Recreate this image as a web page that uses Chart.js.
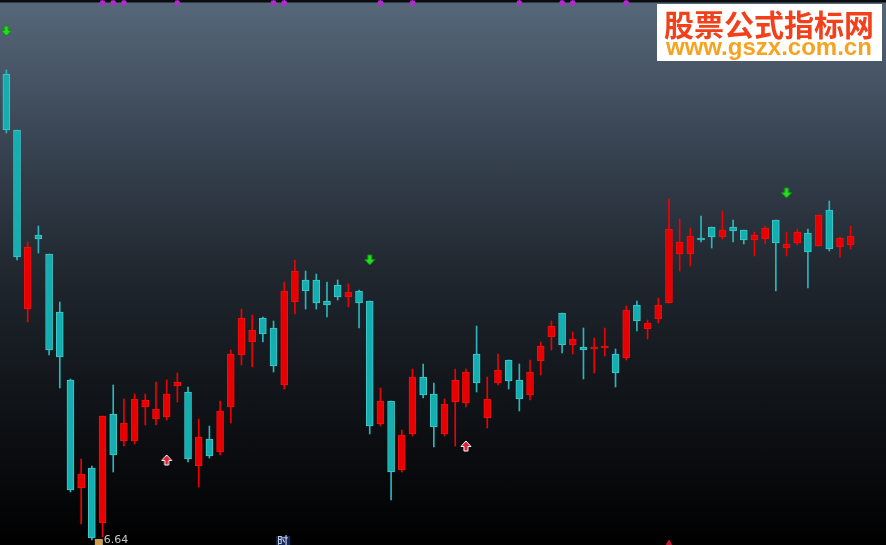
<!DOCTYPE html>
<html>
<head>
<meta charset="utf-8">
<script src="https://cdn.jsdelivr.net/npm/chart.js@4.4.1/dist/chart.umd.min.js"></script>
<style>
  html, body { margin: 0; padding: 0; background: #000; }
  #wrap {
    position: relative; width: 886px; height: 545px; overflow: hidden;
    background: linear-gradient(to bottom, #0a0c0e 0px, #0a0c0e 2px, #56677a 3px, #3b4756 130px, #20272f 270px, #0e1115 420px, #000 545px);
  }
  #logo {
    position: absolute; left: 657px; top: 4px; width: 225px; height: 57px; background: #fff;
  }
  #logo .t1 {
    position: absolute; left: 7px; top: 1px; font: bold 30px "Noto Sans CJK SC", sans-serif;
    color: #f2401b; line-height: 36px; white-space: nowrap;
  }
  #logo .t2 {
    position: absolute; left: 9px; top: 29px; font: bold 24px "Liberation Sans", Arial, sans-serif;
    color: #f5a321; line-height: 28px; white-space: nowrap;
  }
</style>
</head>
<body>
<div id="wrap">
  <canvas id="kline" width="886" height="545"></canvas>
  <div id="logo"><div class="t1">股票公式指标网</div><div class="t2">www.gszx.com.cn</div></div>
</div>
<script>
// K线数据 (开, 高, 低, 收)
const openP  = [11.30,10.74,8.95,9.69,9.50,8.92,8.24,7.16,7.36,6.81,7.90,7.63,7.63,7.97,7.85,7.87,8.18,8.12,7.38,7.65,
                7.52,7.97,8.49,8.62,8.86,8.76,8.19,9.02,9.24,9.24,9.03,9.19,9.07,9.13,9.03,7.80,8.03,7.34,7.70,8.27,
                8.10,7.70,8.02,8.01,8.50,7.86,8.21,8.44,8.24,8.09,8.43,8.67,8.91,8.59,8.57,8.55,8.56,8.50,8.46,8.99,
                8.75,8.85,9.01,9.50,9.50,9.66,9.77,9.67,9.77,9.74,9.64,9.65,9.84,9.56,9.61,9.71,9.58,9.94,9.57,9.59];
const highP  = [11.34,10.74,9.62,9.78,9.50,9.02,8.25,7.45,7.38,7.88,8.19,8.05,8.10,8.10,8.22,8.24,8.31,8.17,7.85,7.78,
                8.03,8.54,8.95,8.89,8.87,8.83,9.22,9.44,9.33,9.30,9.22,9.24,9.20,9.14,9.03,8.16,8.03,7.74,8.35,8.40,
                8.21,8.05,8.35,8.35,8.78,8.27,8.50,8.44,8.40,8.44,8.62,8.83,8.91,8.72,8.76,8.66,8.76,8.55,8.98,9.03,
                8.84,9.06,10.05,9.85,9.76,9.88,9.77,9.93,9.84,9.74,9.72,9.78,9.84,9.72,9.75,9.75,9.89,10.03,9.67,9.78];
const lowP   = [10.71,9.44,8.82,9.51,8.49,8.16,7.12,6.80,6.64,6.67,7.32,7.58,7.60,7.79,7.79,7.84,8.02,7.42,7.17,7.46,
                7.49,7.81,8.39,8.37,8.62,8.32,8.15,8.90,8.95,8.95,8.87,9.04,8.97,8.76,7.70,7.78,7.04,7.32,7.68,8.06,
                7.57,7.68,7.58,7.97,8.12,7.76,8.19,8.15,7.93,8.04,8.29,8.54,8.51,8.50,8.25,8.31,8.48,8.17,8.44,8.73,
                8.65,8.81,9.01,9.33,9.38,9.62,9.56,9.65,9.62,9.60,9.48,9.60,9.13,9.48,9.59,9.16,9.58,9.53,9.47,9.55];
const closeP = [10.74,9.47,9.57,9.65,8.54,8.47,7.14,7.30,6.66,7.88,7.49,7.81,8.05,8.04,7.95,8.10,8.22,7.45,7.67,7.48,
                7.93,8.50,8.86,8.74,8.70,8.38,9.13,9.33,9.13,9.01,8.99,9.07,9.12,9.01,7.78,8.03,7.32,7.69,8.27,8.09,
                7.77,8.00,8.24,8.32,8.21,8.05,8.34,8.23,8.05,8.32,8.58,8.78,8.59,8.65,8.54,8.57,8.57,8.31,8.94,8.83,
                8.81,8.99,9.75,9.62,9.68,9.64,9.67,9.74,9.73,9.64,9.69,9.76,9.61,9.60,9.72,9.52,9.89,9.55,9.66,9.68];
const days = openP.map((_, i) => String(i + 1));

// 信号: 卖出(绿色向下箭头), 买入(红色向上箭头), 顶部紫色标记
const sellIdx = [0, 34, 73];
const sellAt  = [11.73, 9.44, 10.11];
const buyIdx  = [15, 43];
const buyAt   = [7.44, 7.58];
const markIdx = [9, 10, 11, 16, 25, 26, 35, 38, 48, 52, 53, 58];
const markAt  = 12.01;
const dotIdx  = [62];
const dotAt   = [6.61];
const lowLabel = '6.64';

const UP = '#e80000', DOWN = '#14adb0';
const isUp = closeP.map((c, i) => c >= openP[i]);

function sparse(idx, vals) {
    const arr = days.map(() => null);
    idx.forEach((k, j) => { arr[k] = Array.isArray(vals) ? vals[j] : vals; });
    return arr;
}

// 箭头图标
function arrowIcon(down, fill, stroke) {
    const c = document.createElement('canvas');
    c.width = 12; c.height = 12;
    const g = c.getContext('2d');
    g.save();
    if (down) { g.translate(0, 12); g.scale(1, -1); }
    g.beginPath();
    g.moveTo(6, 1); g.lineTo(11, 6.5); g.lineTo(8, 6.5); g.lineTo(8, 11);
    g.lineTo(4, 11); g.lineTo(4, 6.5); g.lineTo(1, 6.5); g.closePath();
    g.fillStyle = fill; g.fill();
    g.lineWidth = 1; g.strokeStyle = stroke; g.stroke();
    g.restore();
    return c;
}
const sellImg = arrowIcon(true, '#22e01e', '#109010');
const buyImg  = arrowIcon(false, '#e0203a', '#ffffff');

// 文字标注
const notes = {
    id: 'notes',
    afterDraw(chart) {
        const { ctx, scales: { x, y } } = chart;
        const lowI = lowP.indexOf(Math.min(...lowP));
        ctx.save();
        const lx = x.getPixelForValue(lowI);
        ctx.fillStyle = '#c8a050';
        ctx.fillRect(lx + 3, 539, 8, 6);
        ctx.font = '11px "DejaVu Sans", sans-serif';
        ctx.fillStyle = '#c8c8c8';
        ctx.textBaseline = 'top';
        ctx.fillText(lowLabel, lx + 12, 535);
        const tx = x.getPixelForValue(26);
        ctx.fillStyle = '#14285a';
        ctx.fillRect(tx - 8, 536, 14, 9);
        ctx.fillStyle = '#e8eef8';
        ctx.font = '11px "Noto Sans CJK SC", sans-serif';
        ctx.fillText('时', tx - 7, 535);
        ctx.restore();
    }
};

new Chart(document.getElementById('kline'), {
    type: 'bar',
    data: {
        labels: days,
        datasets: [
            {
                label: 'wick',
                data: days.map((_, i) => [lowP[i], highP[i]]),
                backgroundColor: isUp.map(u => u ? '#f00000' : '#2ab6be'),
                barThickness: 1,
                grouped: false,
                order: 3
            },
            {
                label: 'body',
                data: days.map((_, i) => [openP[i], closeP[i]]),
                backgroundColor: isUp.map(u => u ? UP : DOWN),
                borderColor: isUp.map(u => u ? '#f01010' : '#40caca'),
                borderWidth: 1,
                borderSkipped: false,
                barThickness: 7,
                minBarLength: 2,
                grouped: false,
                order: 2
            },
            {
                type: 'line', label: 'sell', data: sparse(sellIdx, sellAt),
                showLine: false, pointStyle: sellImg, clip: false, order: 1
            },
            {
                type: 'line', label: 'buy', data: sparse(buyIdx, buyAt),
                showLine: false, pointStyle: buyImg, clip: false, order: 1
            },
            {
                type: 'line', label: 'mark', data: sparse(markIdx, markAt),
                showLine: false, pointStyle: 'star', pointRadius: 3, clip: false,
                borderColor: '#b02ad0', pointBorderWidth: 1.5, order: 1
            },
            {
                type: 'line', label: 'dot', data: sparse(dotIdx, dotAt),
                showLine: false, pointStyle: 'triangle', pointRadius: 3, clip: false,
                backgroundColor: '#c01830', borderColor: '#c01830', order: 1
            }
        ]
    },
    options: {
        responsive: false,
        animation: false,
        layout: { autoPadding: false, padding: { left: 1, right: 30, top: 0, bottom: 0 } },
        plugins: { legend: { display: false }, tooltip: { enabled: false } },
        scales: {
            x: { display: false, offset: true },
            y: { display: false, min: 6.59, max: 12.04 }
        }
    },
    plugins: [notes]
});
</script>
</body>
</html>
